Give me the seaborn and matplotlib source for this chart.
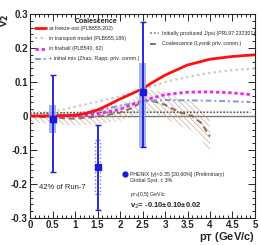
import numpy as np
import pandas as pd
import seaborn as sns
import matplotlib.pyplot as plt
from matplotlib.ticker import MultipleLocator
from matplotlib.patches import Rectangle

# --- model curves ---
pt_freeze = [0, 0.5, 1.0, 1.25, 1.5, 1.7, 2.0, 2.25, 2.5, 2.7, 3.0, 3.5, 4.0, 4.5, 5.0]
v2_freeze = [0, 0, 0.002, 0.008, 0.018, 0.03, 0.05, 0.065, 0.08, 0.097, 0.12, 0.15, 0.167, 0.175, 0.18]

pt_transport = [0, 0.5, 1.0, 1.5, 2.0, 2.5, 3.0, 3.5, 4.0, 4.5, 5.0]
v2_transport = [0, 0.012, 0.027, 0.042, 0.058, 0.078, 0.1, 0.115, 0.127, 0.135, 0.14]

pt_fireball = [0.4, 1.0, 1.5, 2.0, 2.5, 3.0, 3.5, 4.0, 4.5, 4.9]
v2_fireball = [0, 0.0, 0.006, 0.02, 0.045, 0.063, 0.07, 0.071, 0.068, 0.063]

pt_mix = [0, 1.0, 1.5, 2.0, 2.5, 3.0, 3.5, 4.0, 4.5, 4.9]
v2_mix = [0, 0.005, 0.015, 0.03, 0.043, 0.047, 0.046, 0.045, 0.043, 0.041]

pt_initial = [0, 1.0, 2.0, 3.0, 4.0, 4.9]
v2_initial = [0.008, 0.01, 0.011, 0.011, 0.011, 0.011]

pt_lysnik = [0, 0.5, 1.0, 1.5, 2.0, 2.3, 2.5, 2.7, 3.0, 3.3, 3.6, 3.8, 4.0]
v2_lysnik = [0, -0.005, -0.008, -0.002, 0.01, 0.025, 0.045, 0.045, 0.033, 0.012, 0.0, -0.02, -0.06]
lysnik_err = [0.018, 0.018, 0.02, 0.022, 0.024, 0.026, 0.03, 0.033, 0.038, 0.04, 0.043, 0.046, 0.05]

# --- PHENIX data ---
pt_data = [0.5, 1.5, 2.5]
v2_data = [-0.01, -0.15, 0.07]
stat_lo = [0.155, 0.125, 0.16]
stat_hi = [0.13, 0.125, 0.205]
sys_lo = [0.04, 0.08, 0.16]
sys_hi = [0.042, 0.08, 0.086]

sns.set_style("ticks")
plt.rcParams["font.family"] = ["Liberation Sans", "DejaVu Sans"]
plt.rcParams["hatch.linewidth"] = 0.5
plt.rcParams["hatch.color"] = "#c9ab96"

fig = plt.figure(figsize=(2.61, 2.45), dpi=100)
ax = fig.add_axes([0.115, 0.110, 0.862, 0.833])

ax.axhline(0, color="#777777", lw=1.0, zorder=1)

# coalescence band (hatched)
ax.fill_between(pt_lysnik, np.array(v2_lysnik) - np.array(lysnik_err),
                np.array(v2_lysnik) + np.array(lysnik_err),
                facecolor="none", edgecolor="#c9ab96", hatch="\\" * 6, lw=0, zorder=2)

curves = [
    (pt_transport, v2_transport, "#c8c8c8", (0, (1, 1.5)), 1.6),
    (pt_initial, v2_initial, "#555555", (0, (1, 1)), 1.2),
    (pt_lysnik, v2_lysnik, "#8a6a55", (0, (3, 2)), 1.4),
    (pt_mix, v2_mix, "#7e9ad6", (0, (3, 1.5, 1, 1.5)), 1.4),
    (pt_fireball, v2_fireball, "#ee22ee", (0, (1.2, 1)), 2.0),
    (pt_freeze, v2_freeze, "#ff1010", "-", 2.0),
]
for x, y, c, ls, lw in curves:
    df = pd.DataFrame({"pt": x, "v2": y})
    sns.lineplot(data=df, x="pt", y="v2", ax=ax, color=c, lw=lw,
                 linestyle=ls, zorder=3)

# systematic boxes
for i, (x, y) in enumerate(zip(pt_data, v2_data)):
    if i == 1:
        ax.add_patch(Rectangle((x - 0.05, y - sys_lo[i]), 0.1, sys_lo[i] + sys_hi[i],
                               facecolor="none", edgecolor="#6f82f0", ls=":", lw=1, zorder=4))
    else:
        ax.add_patch(Rectangle((x - 0.07, y - sys_lo[i]), 0.14, sys_lo[i] + sys_hi[i],
                               facecolor="#8fa0f5", edgecolor="none", alpha=0.8, zorder=4))

ax.errorbar(pt_data, v2_data, yerr=[stat_lo, stat_hi], fmt="s", color="#1a1ad8",
            ms=4, lw=1.3, capsize=2, capthick=1, zorder=5)

ax.set_xlim(0, 5)
ax.set_ylim(-0.3, 0.3)
ax.xaxis.set_major_locator(MultipleLocator(0.5))
ax.xaxis.set_minor_locator(MultipleLocator(0.1))
ax.yaxis.set_major_locator(MultipleLocator(0.1))
ax.yaxis.set_minor_locator(MultipleLocator(0.02))
ax.set_xticks([0, 0.5, 1, 1.5, 2, 2.5, 3, 3.5, 4, 4.5, 5])
ax.set_xticklabels(["0", "0.5", "1", "1.5", "2", "2.5", "3", "3.5", "4", "4.5", "5"])
ax.set_yticks([-0.3, -0.2, -0.1, 0, 0.1, 0.2, 0.3])
ax.set_yticklabels(["-0.3", "-0.2", "-0.1", "0", "0.1", "0.2", "0.3"])
ax.tick_params(which="both", direction="in", top=True, right=True, width=0.7,
               labelsize=7, pad=1.5)
ax.tick_params(which="major", length=5)
ax.tick_params(which="minor", length=2.5)
for lab in ax.get_xticklabels() + ax.get_yticklabels():
    lab.set_fontweight("bold")
for s in ax.spines.values():
    s.set_linewidth(0.8)

ax.set_xlabel("p$_\\mathbf{T}$ (GeV/c)", loc="right", fontsize=8, fontweight="bold", labelpad=0)
ax.set_ylabel("v$_\\mathbf{2}$", loc="top", fontsize=8, fontweight="bold")
ax.yaxis.set_label_coords(-0.085, 1.0)

# legends as text
T = ax.transAxes
ax.text(0.2, 0.965, "Coalescence", transform=T, fontsize=5, fontweight="bold", va="center")
left_entries = [
    ("at freeze-out (PLB655,202)", "#ff1010", "-", 2.0),
    ("in transport model (PLB655,186)", "#c8c8c8", (0, (1, 1.5)), 1.6),
    ("in fireball (PLB540, 62)", "#ee22ee", (0, (1.2, 1)), 2.0),
    ("+ initial mix (Zhao, Rapp: priv. comm.)", "#7e9ad6", (0, (3, 1.5, 1, 1.5)), 1.4),
]
for k, (lab, c, ls, lw) in enumerate(left_entries):
    yy = 0.93 - k * 0.05
    ax.plot([0.02, 0.07], [yy, yy], transform=T, color=c, ls=ls, lw=lw)
    ax.text(0.085, yy, lab, transform=T, fontsize=3.8, va="center")

right_entries = [
    ("Initially produced J/psi (PRL97:232301)", "#999999", (0, (1, 1)), 1.4),
    ("Coalescence (Lysnik priv. comm.)", "#8a6a55", (0, (3, 2)), 1.4),
]
for k, (lab, c, ls, lw) in enumerate(right_entries):
    yy = 0.905 - k * 0.05
    ax.plot([0.535, 0.575], [yy, yy], transform=T, color=c, ls=ls, lw=lw)
    ax.text(0.585, yy, lab, transform=T, fontsize=3.8, va="center")

ax.text(0.04, 0.15, "42% of Run-7", transform=T, fontsize=5.5, va="center")
ax.plot([0.42], [0.215], "o", color="#1a1ad8", ms=3.5, transform=T)
ax.text(0.445, 0.215, "PHENIX |y|<0.35 [20,60%] (Preliminary)", transform=T, fontsize=3.8, va="center")
ax.text(0.445, 0.185, "Global Syst. \u00b1 3%", transform=T, fontsize=3.8, va="center")
ax.text(0.445, 0.115, "p$_T$\u2208[0,5] GeV/c", transform=T, fontsize=3.8, va="center")
ax.text(0.445, 0.06, "v$_2$= -0.10\u00b10.10\u00b10.02", transform=T, fontsize=5.5,
        fontweight="bold", va="center")

fig.savefig("out.png", dpi=100)
